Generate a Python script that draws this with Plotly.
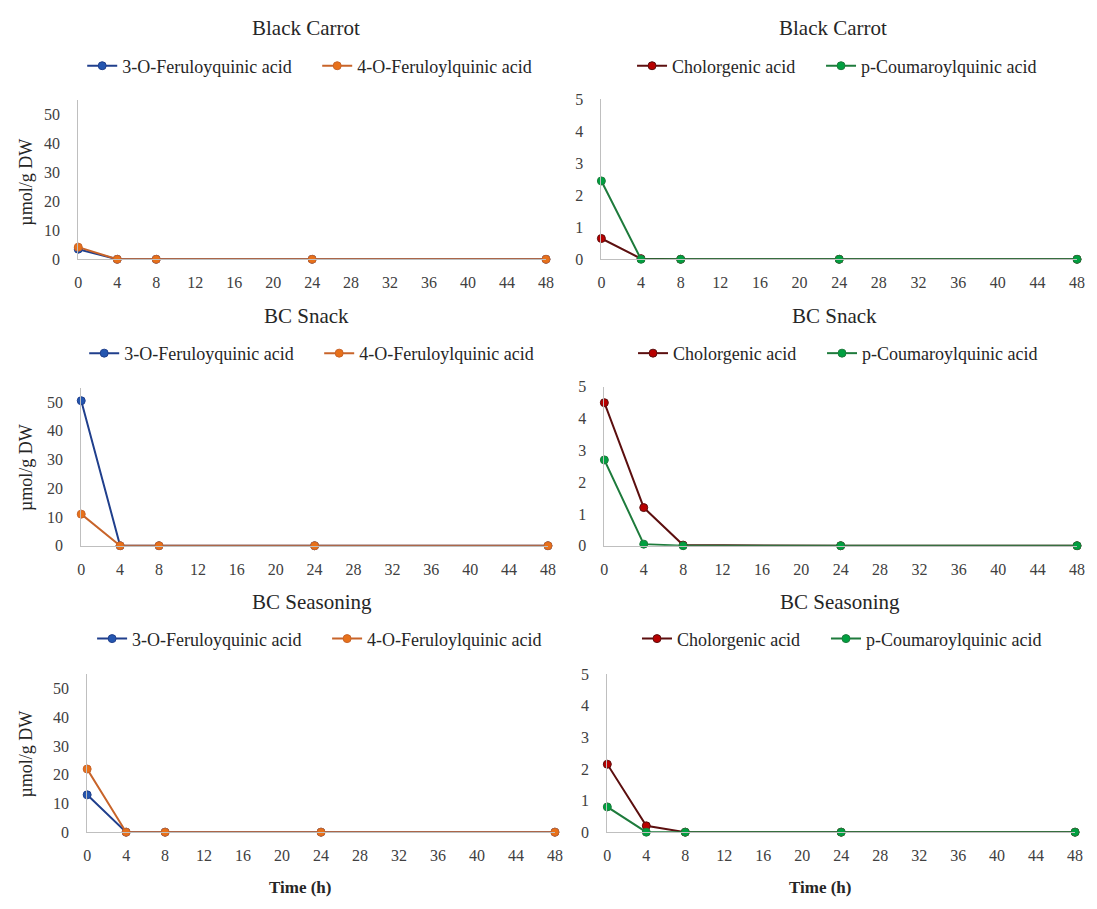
import plotly.graph_objects as go

# The page body has an 8px margin, so the figure is made 16px smaller
# and reference pixel positions are shifted by 8px.
OFF = 8
W, H = 1097 - 2 * OFF, 909 - 2 * OFF


def X(px):
    return (px - OFF) / W


def Y(py):
    return 1 - (py - OFF) / H


time_h = [0, 4, 8, 24, 48]
x_ticks = list(range(0, 49, 4))

panel_titles = ["Black Carrot", "BC Snack", "BC Seasoning"]
y_title = "µmol/g DW"
x_title = "Time (h)"

fq_names = ["3-O-Feruloyquinic acid", "4-O-Feruloylquinic acid"]
cq_names = ["Cholorgenic acid", "p-Coumaroylquinic acid"]

# left column (µmol/g DW)
fq3_black_carrot = [3.5, 0, 0, 0, 0]
fq4_black_carrot = [4.2, 0, 0, 0, 0]
fq3_bc_snack = [50.5, 0, 0, 0, 0]
fq4_bc_snack = [11.0, 0, 0, 0, 0]
fq3_bc_seasoning = [13.0, 0, 0, 0, 0]
fq4_bc_seasoning = [22.0, 0, 0, 0, 0]

# right column (µmol/g DW)
cga_black_carrot = [0.65, 0.02, 0, 0, 0]
pcq_black_carrot = [2.45, 0, 0, 0, 0]
cga_bc_snack = [4.5, 1.2, 0.02, 0, 0]
pcq_bc_snack = [2.7, 0.05, 0, 0, 0]
cga_bc_seasoning = [2.15, 0.2, 0, 0, 0]
pcq_bc_seasoning = [0.8, 0, 0, 0, 0]

left_data = [(fq3_black_carrot, fq4_black_carrot),
             (fq3_bc_snack, fq4_bc_snack),
             (fq3_bc_seasoning, fq4_bc_seasoning)]
right_data = [(cga_black_carrot, pcq_black_carrot),
              (cga_bc_snack, pcq_bc_snack),
              (cga_bc_seasoning, pcq_bc_seasoning)]

FONT = "Liberation Serif"
TXT = "#262626"
TICK = "#404040"
AXC = "#BFBFBF"

line_cols_left = ["#203F8C", "#C8642A"]
mark_cols_left = ["#2456B0", "#E8711A"]
line_cols_right = ["#5C0F0F", "#1E7B3C"]
mark_cols_right = ["#B80000", "#00A040"]

# reference pixel geometry of plot areas: (x0, x1, ytop, ybottom)
left_px = [(75, 548, 94, 256), (78, 550, 387, 548), (84, 557, 679, 840)]
right_px = [(604, 1085, 93, 256), (607, 1085, 386, 548), (610, 1083, 679, 840)]
title_y = [20, 314, 605]
legend_y = [59, 352, 643]
title_cx = [(305, 838), (306, 840), (311, 845)]
legend_x0 = [(84, 640), (86, 641), (94, 645)]
ytitle_cy = [177, 468, 760]
xtitle_cx = (300, 826)
xtitle_y = 896

fig = go.Figure()
layout = dict(width=W, height=H, margin=dict(l=0, r=0, t=0, b=0),
              plot_bgcolor="white", paper_bgcolor="white",
              font=dict(family=FONT, color=TXT), annotations=[])

ax_i = 0
for r in range(3):
    for c in range(2):
        ax_i += 1
        xa = "x" if ax_i == 1 else f"x{ax_i}"
        ya = "y" if ax_i == 1 else f"y{ax_i}"
        lg = "legend" if ax_i == 1 else f"legend{ax_i}"
        if c == 0:
            x0, x1, yt, yb = left_px[r]
            names = fq_names
            series = left_data[r]
            lcols, mcols = line_cols_left, mark_cols_left
            yrange = [0, 55]
            yticks = [0, 10, 20, 30, 40, 50]
            entry_ws = [190, 200]
        else:
            x0, x1, yt, yb = right_px[r]
            names = cq_names
            series = right_data[r]
            lcols, mcols = line_cols_right, mark_cols_right
            yrange = [0, 5]
            yticks = [0, 1, 2, 3, 4, 5]
            entry_ws = [144, 200]
        for k in range(2):
            fig.add_trace(go.Scatter(
                x=time_h, y=series[k], name=names[k], mode="lines+markers",
                line=dict(color=lcols[k], width=2),
                marker=dict(color=mcols[k], size=8, line=dict(color=lcols[k], width=1)),
                xaxis=xa, yaxis=ya, legend=lg, legendwidth=entry_ws[k],
                cliponaxis=False,
            ))
        xkey = "xaxis" if ax_i == 1 else f"xaxis{ax_i}"
        ykey = "yaxis" if ax_i == 1 else f"yaxis{ax_i}"
        layout[xkey] = dict(
            domain=[X(x0), X(x1)], anchor=ya, range=[0, 48],
            tickvals=x_ticks, showgrid=False, zeroline=False,
            showline=True, linecolor=AXC, linewidth=1, ticks="",
            ticklabelstandoff=9,
            tickfont=dict(family=FONT, size=16, color=TICK),
        )
        layout[ykey] = dict(
            domain=[Y(yb), Y(yt)], anchor=xa, range=yrange,
            tickvals=yticks, showgrid=False, zeroline=False,
            showline=True, linecolor=AXC, linewidth=1, ticks="",
            ticklabelstandoff=14,
            tickfont=dict(family=FONT, size=16, color=TICK),
        )
        layout[lg] = dict(
            orientation="h", x=X(legend_x0[r][c] - 5), y=Y(legend_y[r]),
            xanchor="left", yanchor="middle",
            font=dict(family=FONT, size=18, color=TXT),
            itemwidth=30, bgcolor="rgba(0,0,0,0)", borderwidth=0,
        )
        layout["annotations"].append(dict(
            text=panel_titles[r], x=X(title_cx[r][c]), y=Y(title_y[r]),
            xref="paper", yref="paper", showarrow=False,
            xanchor="center", yanchor="middle",
            font=dict(family=FONT, size=21, color=TXT),
        ))
        if c == 0:
            layout["annotations"].append(dict(
                text=y_title, x=X(22), y=Y(ytitle_cy[r]),
                xref="paper", yref="paper", showarrow=False, textangle=-90,
                xanchor="center", yanchor="middle",
                font=dict(family=FONT, size=18, color=TXT),
            ))
        if r == 2:
            layout["annotations"].append(dict(
                text=f"<b>{x_title}</b>", x=X(xtitle_cx[c]), y=Y(xtitle_y),
                xref="paper", yref="paper", showarrow=False,
                xanchor="center", yanchor="middle",
                font=dict(family=FONT, size=17, color=TXT),
            ))

fig.update_layout(**layout)
fig.write_html("out.html")
